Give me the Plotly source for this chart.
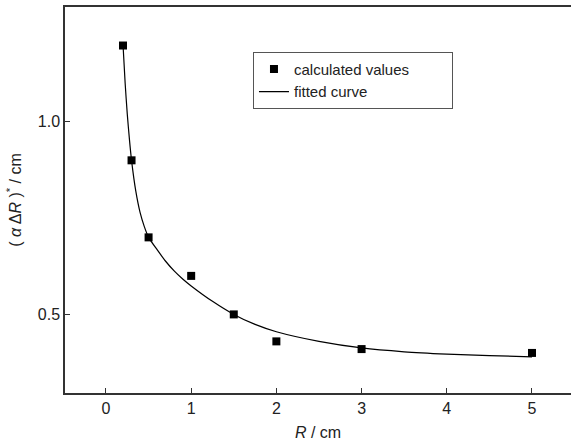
import plotly.graph_objects as go

# calculated values
R_calc = [0.2, 0.3, 0.5, 1.0, 1.5, 2.0, 3.0, 5.0]
y_calc = [1.198, 0.90, 0.70, 0.60, 0.50, 0.43, 0.41, 0.40]

# fitted curve
R_fit = [0.2, 0.225, 0.25, 0.275, 0.3, 0.35, 0.4, 0.45, 0.5, 0.6, 0.7, 0.8, 0.9, 1.0,
         1.25, 1.5, 1.75, 2.0, 2.5, 3.0, 3.5, 4.0, 4.5, 5.0]
y_fit = [1.20, 1.10, 1.02, 0.955, 0.90, 0.82, 0.765, 0.728, 0.70, 0.668, 0.638, 0.613, 0.592, 0.574,
         0.534, 0.50, 0.474, 0.455, 0.43, 0.413, 0.403, 0.397, 0.393, 0.39]

x_ticks = [0, 1, 2, 3, 4, 5]
y_ticks = [0.5, 1.0]

FONT = "Liberation Sans, Arial, sans-serif"
AX = "#333333"
PAD = "&nbsp;" * 9

fig = go.Figure()
fig.add_trace(go.Scatter(
    x=R_calc, y=y_calc, mode="markers", name="calculated values" + PAD,
    marker=dict(symbol="square", size=8, color="black"),
))
fig.add_trace(go.Scatter(
    x=R_fit, y=y_fit, mode="lines", name="fitted curve",
    line=dict(color="black", width=1.2, shape="spline", smoothing=0.6),
))

fig.update_layout(
    width=571, height=448,
    margin=dict(l=65, r=0, t=7, b=55),
    paper_bgcolor="white", plot_bgcolor="white",
    font=dict(family=FONT, size=15, color="#222"),
    showlegend=True,
    legend=dict(
        x=0.3715, y=0.884, xanchor="left", yanchor="top",
        bordercolor="#555", borderwidth=1, bgcolor="white",
        font=dict(size=15, color="#222"),
        tracegroupgap=0,
    ),
    xaxis=dict(
        range=[-0.481, 5.458], tickvals=x_ticks, ticktext=[str(v) for v in x_ticks],
        ticks="inside", ticklen=5, tickcolor=AX, tickwidth=1,
        showline=True, linecolor=AX, linewidth=1.5, mirror=True,
        showgrid=False, zeroline=False,
        title=dict(text="<i>R</i> / cm", font=dict(size=16), standoff=11),
        tickfont=dict(size=16),
    ),
    yaxis=dict(
        range=[0.296, 1.298], tickvals=y_ticks, ticktext=["0.5", "1.0"],
        ticks="inside", ticklen=5, tickcolor=AX, tickwidth=1,
        showline=True, linecolor=AX, linewidth=1.5,
        showgrid=False, zeroline=False,
        title=dict(text="( <i>α</i> Δ<i>R</i> )<sup>*</sup> / cm", font=dict(size=16), standoff=12),
        tickfont=dict(size=16),
    ),
)

fig.write_html("out.html")
